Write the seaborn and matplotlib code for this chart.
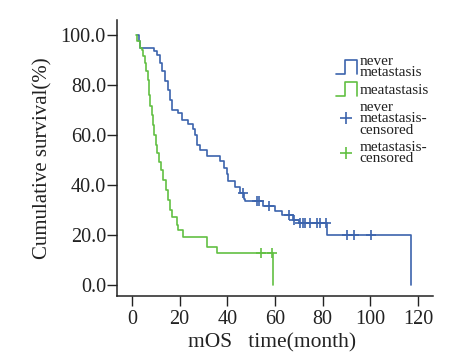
import numpy as np
import pandas as pd
import matplotlib
matplotlib.use('Agg')
import matplotlib.pyplot as plt
import seaborn as sns
from matplotlib.legend_handler import HandlerBase
from matplotlib.lines import Line2D

# Kaplan-Meier steps: event time (month) and survival (%) after it
never_time = [2.0, 2.8, 3.5, 9.3, 10.5, 11.7, 12.5, 13.8, 15.2, 16.0, 16.6, 19.3, 20.8,
              23.5, 25.6, 26.4, 27.1, 28.5, 31.3, 37.0, 38.5, 39.7, 40.4, 43.2, 45.3,
              46.8, 47.5, 55.0, 60.0, 62.8, 67.5, 70.0, 81.7, 117.0]
never_surv = [100.0, 97.5, 95.0, 93.5, 92.0, 89.0, 85.5, 81.5, 78.0, 74.0, 70.0, 69.0, 66.0,
              64.5, 62.5, 60.0, 56.0, 54.0, 51.5, 49.5, 47.0, 44.5, 41.5, 39.3, 36.7,
              34.3, 33.5, 31.5, 29.5, 28.0, 26.0, 24.7, 20.0, 0.0]
never_censored = [46.4, 52.3, 53.4, 57.6, 65.8, 67.8, 70.5, 71.6, 72.6, 74.7, 77.5,
                  78.9, 81.3, 90.1, 93.2, 100.2]

meta_time = [1.7, 2.2, 3.5, 4.0, 4.7, 5.3, 5.9, 6.6, 7.0, 7.3, 7.6, 8.3, 8.6, 9.4, 10.1,
             10.6, 11.5, 12.0, 13.1, 14.3, 15.2, 15.9, 16.6, 18.8, 19.4, 21.5, 31.3,
             35.5, 59.3]
meta_surv = [100.0, 97.5, 95.0, 94.0, 91.5, 89.0, 85.5, 82.0, 79.0, 76.0, 71.5, 68.0, 64.0,
             60.0, 56.0, 52.7, 49.3, 46.0, 42.0, 38.0, 34.0, 30.0, 27.3, 24.0, 22.0, 19.0,
             15.3, 12.7, 0.0]
meta_censored = [54.1, 58.6]

x_ticks = [0, 20, 40, 60, 80, 100, 120]
y_ticks = [0, 20, 40, 60, 80, 100]

blue = '#3c64ad'
green = '#62c043'


def surv_at(times, surv, t):
    # value of the step curve just at time t
    idx = np.searchsorted(times, t, side='right') - 1
    return surv[idx]


class StepHandler(HandlerBase):
    # draws the little "_|‾|" step symbol used in the legend
    def create_artists(self, legend, orig_handle, xdescent, ydescent, width, height, fontsize, trans):
        x0 = -xdescent
        y0 = -ydescent - 0.15 * height
        h = 1.3 * height
        xs = [x0, x0 + 0.45 * width, x0 + 0.45 * width, x0 + width, x0 + width]
        ys = [y0, y0, y0 + h, y0 + h, y0]
        line = Line2D(xs, ys, color=orig_handle.get_color(), lw=orig_handle.get_linewidth())
        line.set_transform(trans)
        return [line]


sns.set_style('ticks')
plt.rcParams['font.family'] = ['Liberation Serif', 'DejaVu Serif']

fig = plt.figure(figsize=(4.72, 3.6), dpi=100)
ax = fig.add_axes([0.2479, 0.1778, 0.6695, 0.7666])

never_df = pd.DataFrame({'time': never_time, 'surv': never_surv})
meta_df = pd.DataFrame({'time': meta_time, 'surv': meta_surv})

sns.lineplot(data=never_df, x='time', y='surv', drawstyle='steps-post', color=blue,
             lw=1.2, estimator=None, sort=False, legend=False, ax=ax)
sns.lineplot(data=meta_df, x='time', y='surv', drawstyle='steps-post', color=green,
             lw=1.2, estimator=None, sort=False, legend=False, ax=ax)

never_cens_df = pd.DataFrame({'time': never_censored,
                              'surv': [surv_at(never_time, never_surv, t) for t in never_censored]})
meta_cens_df = pd.DataFrame({'time': meta_censored,
                             'surv': [surv_at(meta_time, meta_surv, t) for t in meta_censored]})
sns.scatterplot(data=never_cens_df, x='time', y='surv', marker='+', s=45, color=blue,
                linewidth=1.2, legend=False, ax=ax)
sns.scatterplot(data=meta_cens_df, x='time', y='surv', marker='+', s=45, color=green,
                linewidth=1.2, legend=False, ax=ax)

ax.set_xlim(-6.3, 126.3)
ax.set_ylim(-4.4, 106)
ax.set_xticks(x_ticks)
ax.set_yticks(y_ticks)
ax.set_yticklabels([f'{v:.1f}' for v in y_ticks])
ax.tick_params(axis='both', labelsize=14.5, length=7, width=1, color='#222222',
               labelcolor='#222222', direction='out')
ax.tick_params(axis='y', pad=1)
ax.tick_params(axis='x', pad=3)
sns.despine(ax=ax)
for side in ['left', 'bottom']:
    ax.spines[side].set_linewidth(1.1)
    ax.spines[side].set_color('#222222')

ax.set_xlabel('mOS   time(month)', fontsize=15.5, color='#222222', labelpad=2)
ax.set_ylabel('Cumulative survival(%)', fontsize=15, color='#222222', labelpad=6)
ax.xaxis.set_label_coords(0.49, -0.135)

h1 = Line2D([], [], color=blue, lw=1.2)
h2 = Line2D([], [], color=green, lw=1.2)
h3 = Line2D([], [], color=blue, marker='+', linestyle='none', markersize=9, markeredgewidth=1.2)
h4 = Line2D([], [], color=green, marker='+', linestyle='none', markersize=9, markeredgewidth=1.2)
leg = ax.legend([h1, h2, h3, h4],
                ['never\nmetastasis', 'meatastasis', 'never\nmetastasis-\ncensored',
                 'metastasis-\ncensored'],
                handler_map={h1: StepHandler(), h2: StepHandler()},
                loc='upper left', bbox_to_anchor=(336 / 472, 1 - 55 / 360),
                bbox_transform=fig.transFigure, frameon=False, fontsize=11,
                handlelength=1.35, handletextpad=0.2, labelspacing=0.25, borderaxespad=0,
                borderpad=0)
for t in leg.get_texts():
    t.set_linespacing(0.85)
    t.set_color('#222222')

fig.savefig('out.png', dpi=100)
